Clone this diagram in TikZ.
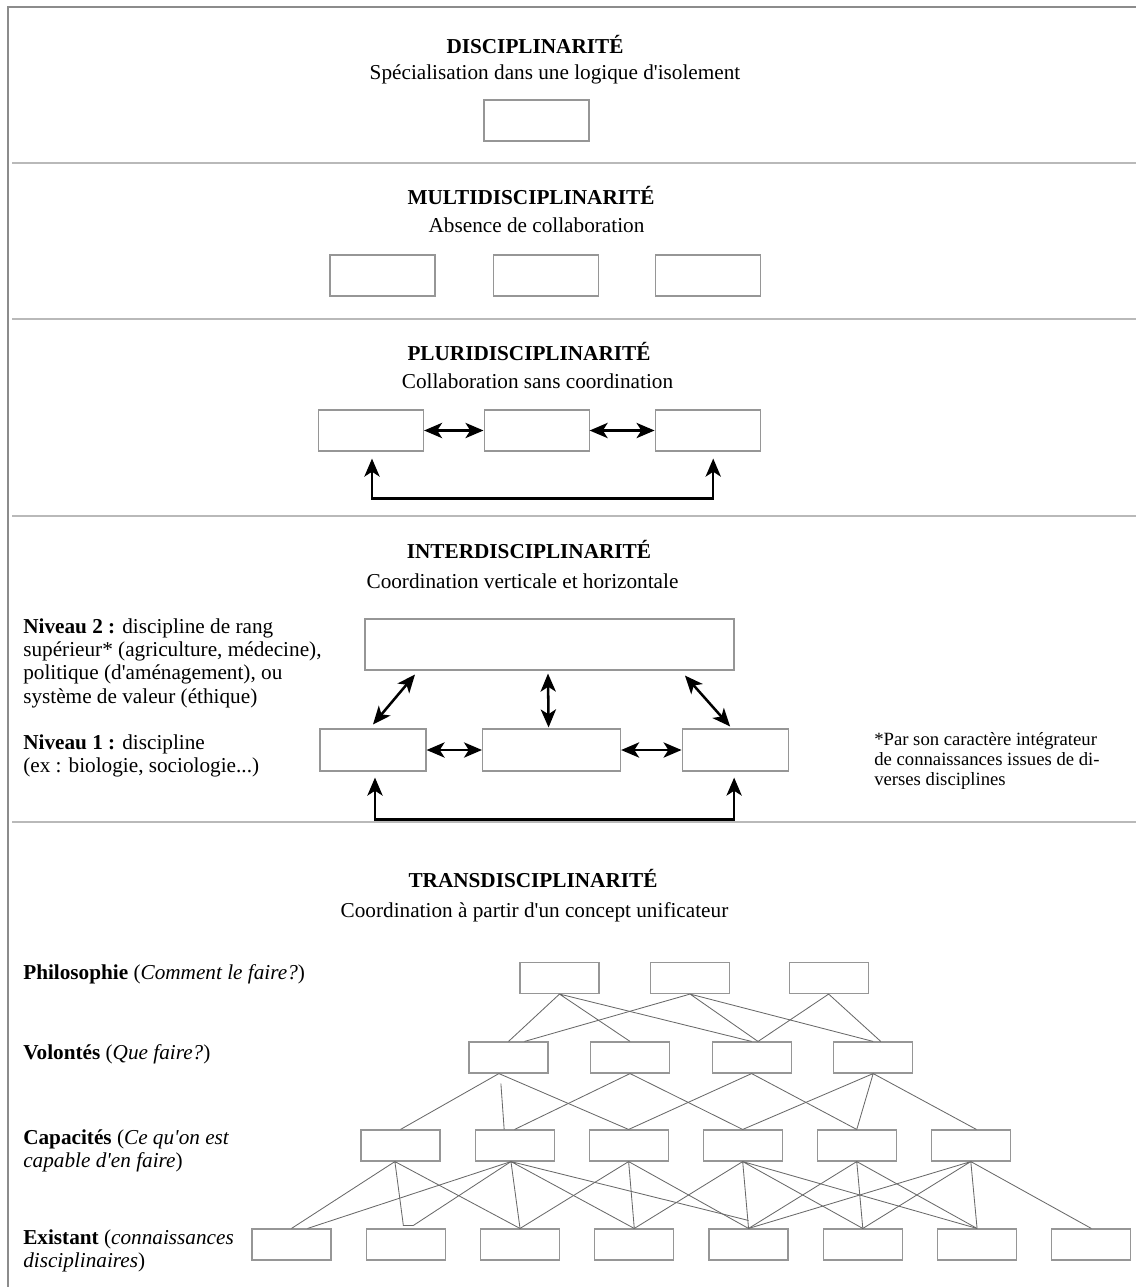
\documentclass[tikz,border=0pt]{standalone}
\usepackage{fontspec}
\setmainfont{Liberation Serif}[Ligatures=TeXOff]
\usepackage{tikz}
\usetikzlibrary{arrows.meta}
\usetikzlibrary{positioning}
\usetikzlibrary{calc}
\definecolor{framegray}{RGB}{140,140,140}
\definecolor{sepgray}{RGB}{185,185,185}
\definecolor{boxgray}{RGB}{150,150,150}
\definecolor{linkgray}{RGB}{105,105,105}
\tikzstyle{box} = [rectangle, draw=boxgray, line width=0.8pt, inner sep=0pt, minimum width=2.625cm, minimum height=1.025cm]
\tikzstyle{cell} = [rectangle, draw=boxgray, line width=0.8pt, inner sep=0pt, minimum width=1.975cm, minimum height=0.775cm]
\tikzstyle{title} = [anchor=base, inner sep=0pt]
\tikzstyle{label} = [anchor=base west, inner sep=0pt]
\tikzstyle{note} = [anchor=north west, inner sep=0pt, align=left]
\tikzstyle{arr} = [line width=1.8pt, {Stealth[length=4.5mm,width=3.8mm,inset=1.2mm]}-{Stealth[length=4.5mm,width=3.8mm,inset=1.2mm]}]
\tikzstyle{link} = [draw=linkgray, line width=0.6pt]
\tikzstyle{sep} = [draw=sepgray, line width=1.6pt]

\begin{document}
\begin{tikzpicture}[font=\fontsize{15.1pt}{16.6pt}\selectfont]
	\useasboundingbox (0,0) rectangle (28.4,-32.175);
	\draw[draw=framegray, line width=1pt] (0.2,-32.175) -- (0.2,-0.175) -- (28.4,-0.175);
	\draw[sep] (0.3,-4.075) -- (28.4,-4.075);
	\draw[sep] (0.3,-7.975) -- (28.4,-7.975);
	\draw[sep] (0.3,-12.9) -- (28.4,-12.9);
	\draw[sep] (0.3,-20.55) -- (28.4,-20.55);

	\node[title](T-Disc) at (13.375,-1.325){\textbf{DISCIPLINARITÉ}};
	\node[title](S-Disc) at (13.875,-1.975){Spécialisation dans une logique d'isolement};
	\node[box](Disc-A) at (13.4125,-3.0125){};

	\node[title](T-Multi) at (13.275,-5.1){\textbf{MULTIDISCIPLINARITÉ}};
	\node[title](S-Multi) at (13.4125,-5.8){Absence de collaboration};
	\node[box](Multi-A) at (9.5625,-6.8875){};
	\node[box] at([xshift=2.75cm]Multi-A.east)(Multi-B){};
	\node[box] at([xshift=2.74cm]Multi-B.east)(Multi-C){};

	\node[title](T-Pluri) at (13.225,-9.0){\textbf{PLURIDISCIPLINARITÉ}};
	\node[title](S-Pluri) at (13.4375,-9.7){Collaboration sans coordination};
	\node[box](Pluri-A) at (9.275,-10.7625){};
	\node[box] at([xshift=2.8125cm]Pluri-A.east)(Pluri-B){};
	\node[box] at([xshift=2.95cm]Pluri-B.east)(Pluri-C){};
	\draw[arr] (Pluri-A) -- (Pluri-B);
	\draw[arr] (Pluri-B) -- (Pluri-C);
	\draw[arr] ([xshift=0.025cm,yshift=-0.175cm]Pluri-A.south) -- ++(0,-1) -| ([xshift=0.14cm,yshift=-0.175cm]Pluri-C.south);

	\node[title](T-Inter) at (13.225,-13.95){\textbf{INTERDISCIPLINARITÉ}};
	\node[title](S-Inter) at (13.0625,-14.7){Coordination verticale et horizontale};
	\node[note](Niv-2) at (0.575,-15.45){\textbf{Niveau 2 :} discipline de rang\\supérieur* (agriculture, médecine),\\politique (d'aménagement), ou\\système de valeur (éthique)};
	\node[note](Niv-1) at (0.575,-18.35){\textbf{Niveau 1 :} discipline\\(ex : biologie, sociologie...)};
	\node[note, font=\fontsize{13.3pt}{14.2pt}\selectfont](Footnote) at (21.85,-18.3){*Par son caractère intégrateur\\de connaissances issues de di-\\verses disciplines};
	\node[box, minimum width=9.225cm, minimum height=1.275cm](Inter-Top) at (13.7375,-16.1125){};
	\node[box, minimum width=2.65cm, minimum height=1.05cm](Inter-L) at (9.325,-18.75){};
	\node[box, minimum width=3.45cm, minimum height=1.05cm] at([xshift=3.125cm]Inter-L.east)(Inter-M){};
	\node[box, minimum width=2.65cm, minimum height=1.05cm] at([xshift=2.85cm]Inter-M.east)(Inter-R){};
	\draw[arr] ([xshift=-3.3625cm,yshift=-0.1cm]Inter-Top.south) -- ([yshift=0.1cm]Inter-L.north);
	\draw[arr] ([xshift=-0.0375cm,yshift=-0.075cm]Inter-Top.south) -- ([xshift=-0.075cm,yshift=0.025cm]Inter-M.north);
	\draw[arr] ([xshift=3.3875cm,yshift=-0.125cm]Inter-Top.south) -- ([xshift=-0.125cm,yshift=0.05cm]Inter-R.north);
	\draw[arr] (Inter-L) -- (Inter-M);
	\draw[arr] (Inter-M) -- (Inter-R);
	\draw[arr] ([xshift=0.05cm,yshift=-0.15cm]Inter-L.south) -- ++(0,-1.05) -| ([xshift=-0.025cm,yshift=-0.15cm]Inter-R.south);

	\node[title](T-Trans) at (13.325,-22.175){\textbf{TRANSDISCIPLINARITÉ}};
	\node[title](S-Trans) at (13.3625,-22.925){Coordination à partir d'un concept unificateur};
	\node[label](L-Philo) at (0.575,-24.475){\textbf{Philosophie} (\textit{Comment le faire?})};
	\node[label](L-Vol) at (0.575,-26.475){\textbf{Volontés} (\textit{Que faire?})};
	\node[note](L-Cap) at (0.575,-28.225){\textbf{Capacités} (\textit{Ce qu'on est}\\\textit{capable d'en faire})};
	\node[note](L-Exist) at (0.575,-30.725){\textbf{Existant} (\textit{connaissances}\\\textit{disciplinaires})};

	\node[cell](P1) at (13.9875,-24.45){};
	\node[cell] at([xshift=2.2625cm]P1.east)(P2){};
	\node[cell] at([xshift=2.4625cm]P2.east)(P3){};

	\node[cell](V1) at (12.7125,-26.4375){};
	\node[cell] at([xshift=2.0375cm]V1.east)(V2){};
	\node[cell] at([xshift=2.0375cm]V2.east)(V3){};
	\node[cell] at([xshift=2.0375cm]V3.east)(V4){};

	\node[cell](C1) at (10.0125,-28.6375){};
	\node[cell] at([xshift=1.85cm]C1.east)(C2){};
	\node[cell] at([xshift=1.85cm]C2.east)(C3){};
	\node[cell] at([xshift=1.85cm]C3.east)(C4){};
	\node[cell] at([xshift=1.85cm]C4.east)(C5){};
	\node[cell] at([xshift=1.85cm]C5.east)(C6){};

	\node[cell](E1) at (7.2875,-31.1125){};
	\node[cell] at([xshift=1.855cm]E1.east)(E2){};
	\node[cell] at([xshift=1.855cm]E2.east)(E3){};
	\node[cell] at([xshift=1.855cm]E3.east)(E4){};
	\node[cell] at([xshift=1.855cm]E4.east)(E5){};
	\node[cell] at([xshift=1.855cm]E5.east)(E6){};
	\node[cell] at([xshift=1.855cm]E6.east)(E7){};
	\node[cell] at([xshift=1.855cm]E7.east)(E8){};

	\draw[link] (P1.south) -- (V1.north) (P1.south) -- (V2.north) (P1.south) -- (V3.north);
	\draw[link] (P2.south) -- ([xshift=0.4cm]V1.north) (P2.south) -- ([xshift=0.16cm]V3.north) (P2.south) -- (V4.north);
	\draw[link] (P3.south) -- ([xshift=0.16cm]V3.north) (P3.south) -- ([xshift=0.19cm]V4.north);

	\draw[link] ([xshift=-0.24cm]V1.south) -- (C1.north) ([xshift=-0.24cm]V1.south) -- (C3.north) ([xshift=-0.19cm,yshift=-0.25cm]V1.south) -- ([xshift=-0.26cm]C2.north);
	\draw[link] (V2.south) -- (C2.north) (V2.south) -- (C4.north);
	\draw[link] (V3.south) -- (C3.north) (V3.south) -- (C5.north);
	\draw[link] (V4.south) -- (C4.north) (V4.south) -- (C5.north) (V4.south) -- ([xshift=0.14cm]C6.north);

	\draw[link] ([xshift=-0.14cm]C1.south) -- (E1.north) ([xshift=-0.14cm]C1.south) -- ([xshift=-0.06cm,yshift=0.075cm]E2.north) -- ([xshift=0.19cm,yshift=0.075cm]E2.north) -- ([xshift=-0.09cm]C2.south) ([xshift=-0.14cm]C1.south) -- (E3.north);
	\draw[link] ([xshift=-0.09cm]C2.south) -- ([xshift=0.4cm]E1.north) ([xshift=-0.09cm]C2.south) -- (E3.north) ([xshift=-0.09cm]C2.south) -- (E4.north) ([xshift=-0.09cm]C2.south) -- ([yshift=0.2cm]E5.north);
	\draw[link] (C3.south) -- (E3.north) (C3.south) -- (E4.north) (C3.south) -- (E5.north);
	\draw[link] (C4.south) -- (E4.north) (C4.south) -- (E5.north) (C4.south) -- (E6.north) (C4.south) -- (E7.north);
	\draw[link] (C5.south) -- (E5.north) (C5.south) -- (E6.north) (C5.south) -- (E7.north);
	\draw[link] (C6.south) -- (E5.north) (C6.south) -- (E6.north) (C6.south) -- (E7.north) (C6.south) -- (E8.north);
\end{tikzpicture}
\end{document}
